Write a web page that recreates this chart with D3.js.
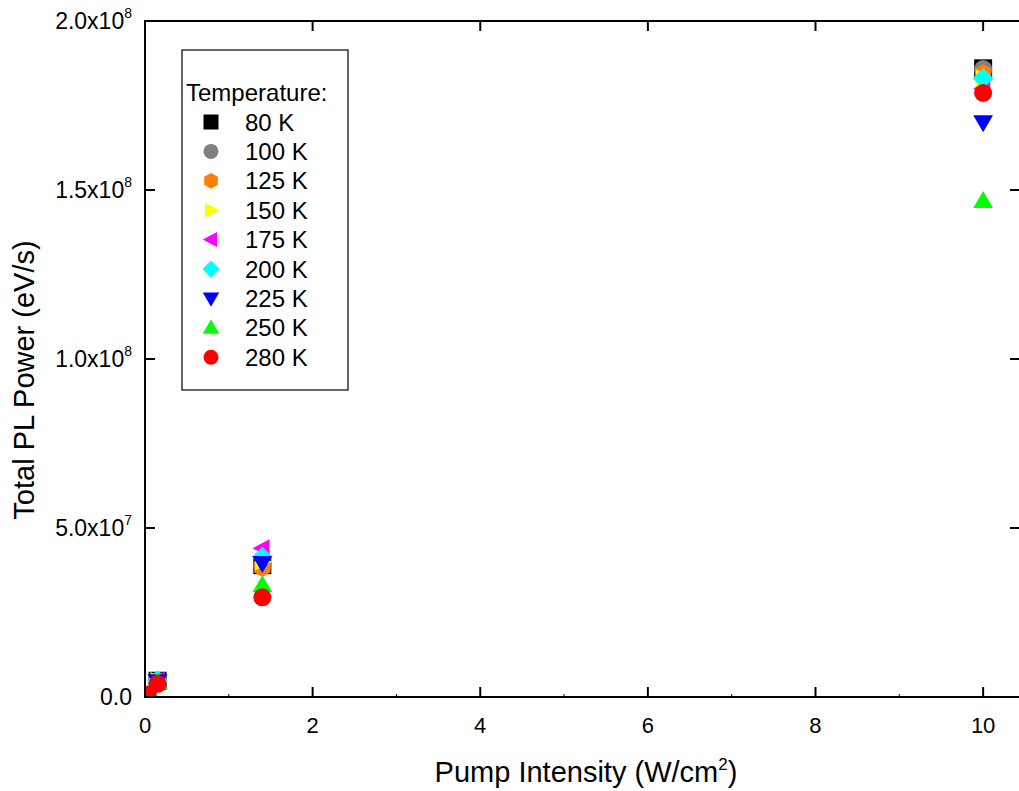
<!DOCTYPE html>
<html>
<head>
<meta charset="utf-8">
<script src="https://cdn.jsdelivr.net/npm/d3@7"></script>
<style>
  body { margin: 0; background: #fff; }
  text { font-family: "Liberation Sans", Arial, sans-serif; fill: #000; }
</style>
</head>
<body>
<div id="chart"></div>
<script>
// pump intensity (W/cm^2)
var intensity = [0.03, 0.15, 1.4, 10];

var temps  = ["80 K", "100 K", "125 K", "150 K", "175 K", "200 K", "225 K", "250 K", "280 K"];
var colors = ["#000000", "#808080", "#ff7f00", "#ffff00", "#ff00ff", "#00ffff", "#0000ff", "#00ff00", "#ff0000"];
var shapes = ["square", "circle", "hexagon", "right", "left", "diamond", "down", "up", "circle"];

// total PL power (eV/s), one row per temperature, same order as intensity
var power = [
  [0.5e6, 4.8e6, 3.90e7, 1.860e8],
  [0.5e6, 4.8e6, 3.90e7, 1.858e8],
  [0.5e6, 4.5e6, 3.83e7, 1.845e8],
  [0.5e6, 4.7e6, 4.00e7, 1.830e8],
  [0.5e6, 4.9e6, 4.40e7, 1.800e8],
  [0.5e6, 4.8e6, 4.14e7, 1.830e8],
  [0.5e6, 4.6e6, 3.96e7, 1.700e8],
  [0.5e6, 4.4e6, 3.31e7, 1.468e8],
  [0.6e6, 3.9e6, 2.95e7, 1.787e8]
];

var xTicks = [0, 2, 4, 6, 8, 10];
var yTicks = [0, 5e7, 1e8, 1.5e8, 2e8];
var yTickText = ["0.0", "5.0x10|7", "1.0x10|8", "1.5x10|8", "2.0x10|8"];

var W = 1019, H = 791;
var margin = {top: 21, right: -1, bottom: 94, left: 145};
var width = W - margin.left - margin.right,
    height = H - margin.top - margin.bottom;

var x = d3.scaleLinear().domain([0, 10.44]).range([0, width]);
var y = d3.scaleLinear().domain([0, 2e8]).range([height, 0]);

var svg = d3.select("#chart").append("svg")
    .attr("width", W)
    .attr("height", H);

var g = svg.append("g")
    .attr("transform", "translate(" + margin.left + "," + margin.top + ")");

g.append("clipPath").attr("id", "clip")
  .append("rect").attr("width", width).attr("height", height);

function symbolPath(shape, s) {
  var r = s / 2;
  switch (shape) {
    case "square": return "M" + (-r) + "," + (-r) + "h" + s + "v" + s + "h" + (-s) + "Z";
    case "circle": return "M" + (-r) + ",0A" + r + "," + r + " 0 1,0 " + r + ",0A" + r + "," + r + " 0 1,0 " + (-r) + ",0Z";
    case "hexagon":
      var pts = d3.range(6).map(function(i) {
        var a = Math.PI / 6 + i * Math.PI / 3;
        return [r * 1.05 * Math.cos(a), r * 1.05 * Math.sin(a)];
      });
      return "M" + pts.join("L") + "Z";
    case "right": return "M" + (-r * 0.8) + "," + (-r) + "L" + (r * 1.1) + ",0L" + (-r * 0.8) + "," + r + "Z";
    case "left": return "M" + (r * 0.8) + "," + (-r) + "L" + (-r * 1.1) + ",0L" + (r * 0.8) + "," + r + "Z";
    case "diamond": return "M0," + (-r * 1.15) + "L" + (r * 1.15) + ",0L0," + (r * 1.15) + "L" + (-r * 1.15) + ",0Z";
    case "down": return "M" + (-r * 1.1) + "," + (-r * 0.8) + "L" + (r * 1.1) + "," + (-r * 0.8) + "L0," + (r * 1.1) + "Z";
    case "up": return "M" + (-r * 1.1) + "," + (r * 0.8) + "L" + (r * 1.1) + "," + (r * 0.8) + "L0," + (-r * 1.1) + "Z";
  }
}

// data points
var pts = g.append("g").attr("clip-path", "url(#clip)");
temps.forEach(function(t, i) {
  pts.selectAll(".p" + i)
    .data(power[i])
    .enter()
    .append("path")
    .attr("class", "p" + i)
    .attr("transform", function(d, j) { return "translate(" + x(intensity[j]) + "," + y(d) + ")"; })
    .attr("d", symbolPath(shapes[i], 18))
    .style("fill", colors[i]);
});

// frame
var frame = g.append("g").style("stroke", "#000").style("stroke-width", 2).style("fill", "none");
frame.append("rect").attr("x", 0).attr("y", 0).attr("width", width).attr("height", height);

// ticks (inward)
xTicks.forEach(function(v) {
  frame.append("line").attr("x1", x(v)).attr("x2", x(v)).attr("y1", height).attr("y2", height - 10);
  frame.append("line").attr("x1", x(v)).attr("x2", x(v)).attr("y1", 0).attr("y2", 10);
});
d3.range(1, 11, 2).forEach(function(v) {
  frame.append("line").attr("x1", x(v)).attr("x2", x(v)).attr("y1", height).attr("y2", height - 3)
    .style("stroke-width", 1);
});
yTicks.forEach(function(v) {
  frame.append("line").attr("x1", 0).attr("x2", 10).attr("y1", y(v)).attr("y2", y(v));
  frame.append("line").attr("x1", width).attr("x2", width - 10).attr("y1", y(v)).attr("y2", y(v));
});

// tick labels
g.selectAll(".xl")
  .data(xTicks)
  .enter()
  .append("text")
  .attr("x", function(d) { return x(d); })
  .attr("y", height + 36)
  .attr("text-anchor", "middle")
  .style("font-size", "22px")
  .text(function(d) { return d; });

yTicks.forEach(function(v, i) {
  var parts = yTickText[i].split("|");
  var t = g.append("text")
    .attr("x", -13)
    .attr("y", y(v) + 8)
    .attr("text-anchor", "end")
    .style("font-size", "23px");
  t.append("tspan").text(parts[0]);
  if (parts[1]) {
    t.append("tspan").attr("dy", -11).style("font-size", "14px").text(parts[1]);
  }
});

// axis titles
var xt = svg.append("text")
  .attr("x", 586)
  .attr("y", 782)
  .attr("text-anchor", "middle")
  .style("font-size", "29px");
xt.append("tspan").text("Pump Intensity (W/cm");
xt.append("tspan").attr("dy", -12).style("font-size", "17px").text("2");
xt.append("tspan").attr("dy", 12).text(")");

svg.append("text")
  .attr("transform", "translate(34,380) rotate(-90)")
  .attr("text-anchor", "middle")
  .style("font-size", "29px")
  .text("Total PL Power (eV/s)");

// legend
var leg = svg.append("g");
leg.append("rect")
  .attr("x", 182).attr("y", 50).attr("width", 166).attr("height", 340)
  .style("fill", "#fff").style("stroke", "#000").style("stroke-width", 1.2);
leg.append("text")
  .attr("x", 186).attr("y", 101)
  .style("font-size", "24px")
  .text("Temperature:");
temps.forEach(function(t, i) {
  var cy = 122 + i * 29.4;
  leg.append("path")
    .attr("transform", "translate(211," + cy + ")")
    .attr("d", symbolPath(shapes[i], 15))
    .style("fill", colors[i]);
  leg.append("text")
    .attr("x", 245).attr("y", cy + 8.5)
    .style("font-size", "24px")
    .text(t);
});
</script>
</body>
</html>
